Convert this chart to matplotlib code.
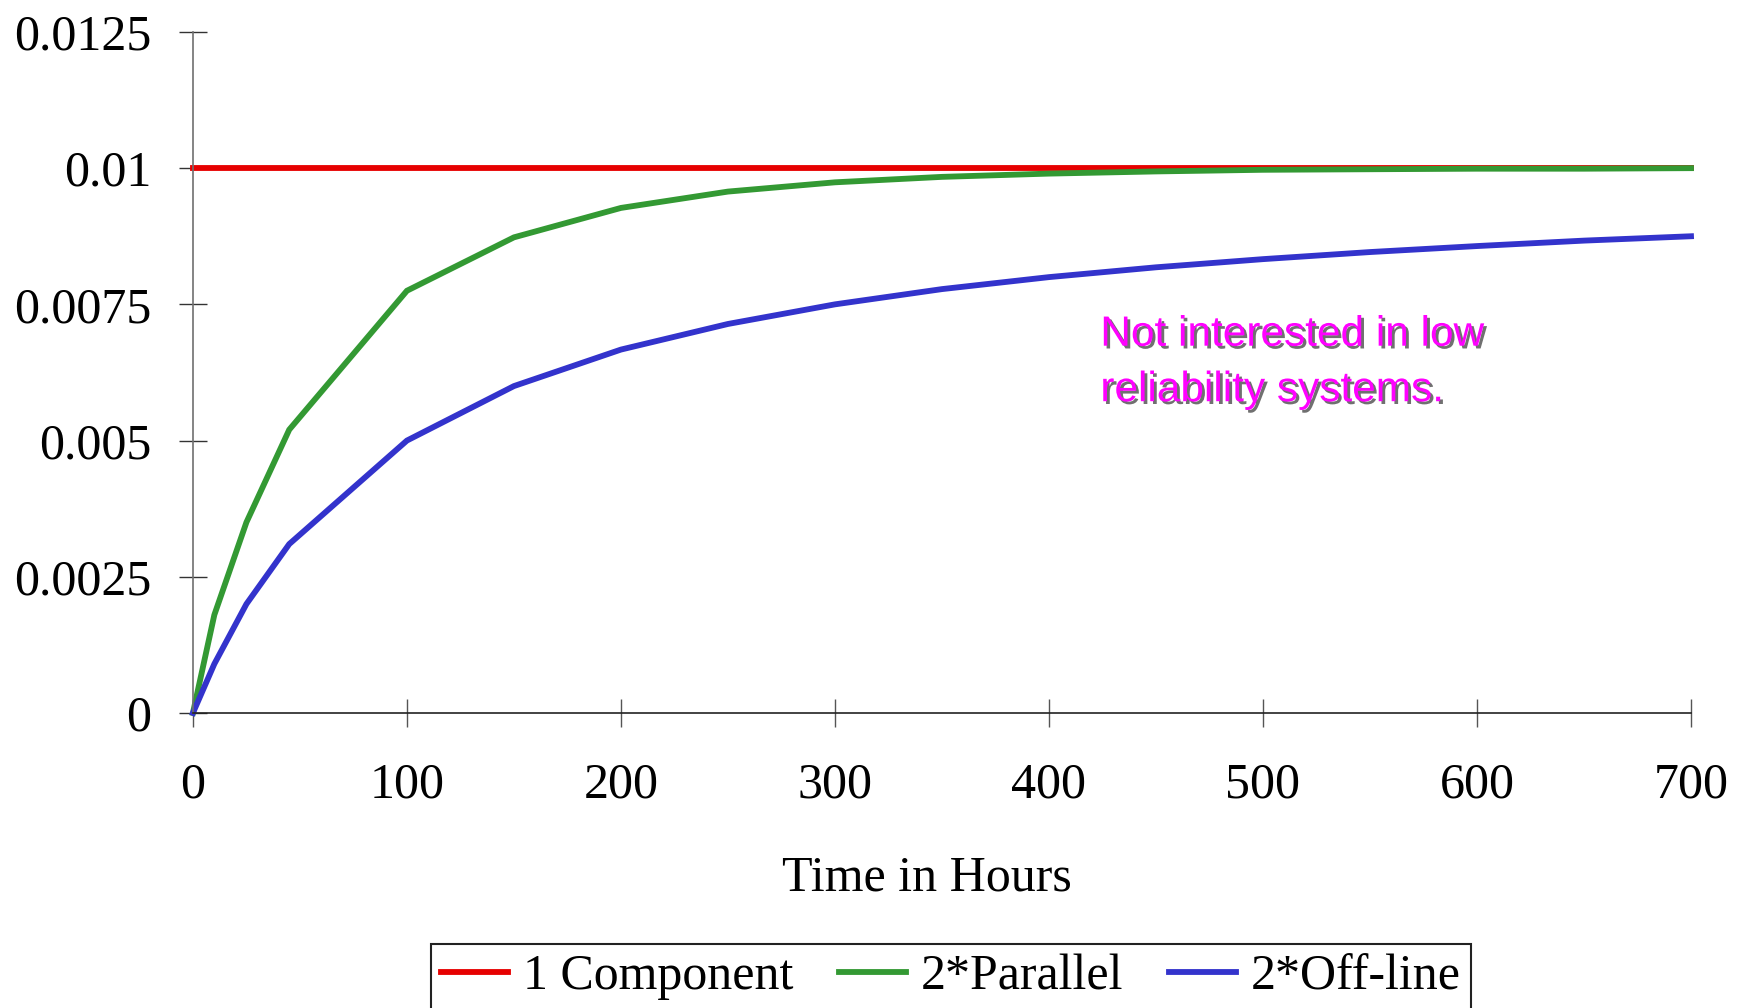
import matplotlib
matplotlib.use("Agg")
import matplotlib.pyplot as plt
import matplotlib.patheffects as pe

# hours
hours = [0, 10, 25, 45, 100, 150, 200, 250, 300, 350, 400, 450, 500, 550, 600, 650, 700]

# hazard rate
one_component = [0.01, 0.01, 0.01, 0.01, 0.01, 0.01, 0.01, 0.01, 0.01,
                 0.01, 0.01, 0.01, 0.01, 0.01, 0.01, 0.01, 0.01]
parallel_2 = [0.0, 0.0018, 0.0035, 0.0052, 0.00775, 0.00873, 0.00927, 0.00957, 0.00974,
              0.00984, 0.0099, 0.00994, 0.00997, 0.00998, 0.00999, 0.00999, 0.01]
offline_2 = [0.0, 0.0009, 0.002, 0.0031, 0.005, 0.006, 0.00667, 0.00714, 0.0075,
             0.00778, 0.008, 0.00818, 0.00833, 0.00846, 0.00857, 0.00867, 0.00875]

series_labels = ["1 Component", "2*Parallel", "2*Off-line"]
series_colors = ["#E60000", "#339933", "#3333CC"]

x_ticks = [0, 100, 200, 300, 400, 500, 600, 700]
y_ticks = [0, 0.0025, 0.005, 0.0075, 0.01, 0.0125]
y_tick_labels = ["0", "0.0025", "0.005", "0.0075", "0.01", "0.0125"]

note = "Not interested in low\nreliability systems."

serif = ["Liberation Serif", "DejaVu Serif"]

fig = plt.figure(figsize=(17.46, 10.08), dpi=100)
ax = fig.add_axes([0.1105, 0.2927, 0.858, 0.6756])

for ys, lab, col in zip([one_component, parallel_2, offline_2], series_labels, series_colors):
    ax.plot(hours, ys, color=col, linewidth=4.2, label=lab, clip_on=False,
            solid_joinstyle="miter")

ax.set_xlim(0, 700)
ax.set_ylim(0, 0.0125)
ax.set_xticks(x_ticks)
ax.set_xticklabels([str(t) for t in x_ticks], family=serif, fontsize=36)
ax.set_yticks(y_ticks)
ax.set_yticklabels(y_tick_labels, family=serif, fontsize=36)

ax.tick_params(axis="x", direction="inout", length=20, width=1.0, color="#555555", pad=25)
ax.tick_params(axis="y", direction="inout", length=20, width=1.0, color="#333333", pad=20)

for side in ["top", "right"]:
    ax.spines[side].set_visible(False)
ax.spines["left"].set_color("#707070")
ax.spines["bottom"].set_color("#222222")
ax.spines["left"].set_linewidth(1.2)
ax.spines["bottom"].set_linewidth(1.2)

# x axis title sits a bit left of the axes centre
fig.text(0.531, 0.117, "Time in Hours", family=serif, fontsize=36,
         ha="center", va="baseline")

ax.text(424, 0.00731, note, color="#FF00FF", fontsize=30.5,
        family=["Liberation Sans", "DejaVu Sans"], va="top", ha="left", linespacing=1.5,
        path_effects=[pe.withSimplePatchShadow(offset=(2, -2), shadow_rgbFace="#404040", alpha=0.75)])

leg = fig.legend(loc="upper center", bbox_to_anchor=(0.5447, 0.0635), ncol=3,
                 prop={"family": serif, "size": 36}, frameon=True, fancybox=False,
                 handlelength=1.35, handletextpad=0.3, columnspacing=0.9,
                 borderpad=0.2, borderaxespad=0)
leg.get_frame().set_edgecolor("#222222")
leg.get_frame().set_linewidth(1.5)
leg.get_frame().set_alpha(1.0)

fig.savefig("out.png", dpi=100)
